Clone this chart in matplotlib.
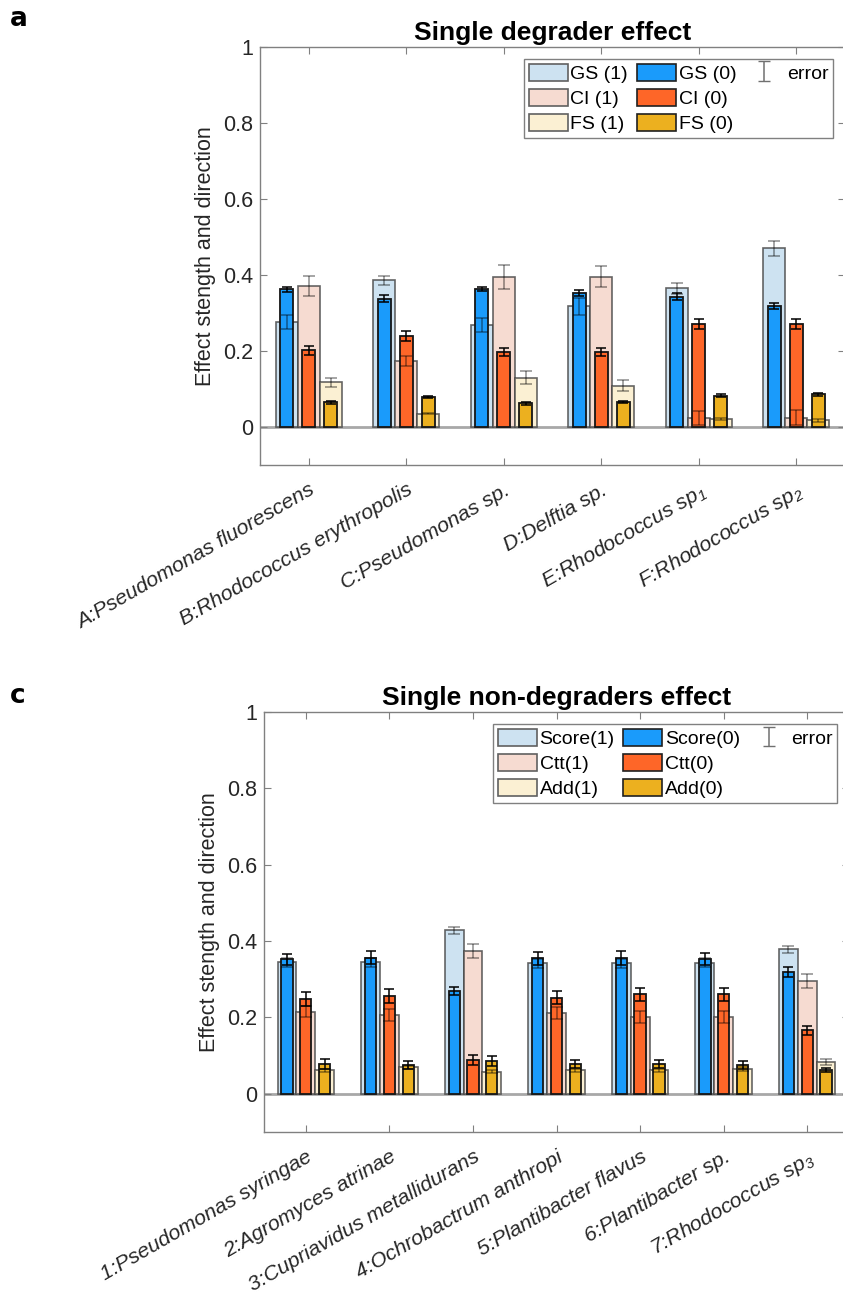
import numpy as np
import matplotlib
matplotlib.use("Agg")
import matplotlib.pyplot as plt
from matplotlib.patches import Patch
from matplotlib.transforms import ScaledTranslation

plt.rcParams['font.family'] = ['Liberation Sans', 'DejaVu Sans']
plt.rcParams['mathtext.fontset'] = 'custom'
plt.rcParams['mathtext.rm'] = 'Liberation Sans:italic'
plt.rcParams['mathtext.it'] = 'Liberation Sans:italic'

# ---- single degraders ----
deg_names = ['A:Pseudomonas fluorescens', 'B:Rhodococcus erythropolis',
             'C:Pseudomonas sp.', 'D:Delftia sp.',
             r'E:Rhodococcus sp$_1$', r'F:Rhodococcus sp$_2$']
gs1 = [0.276, 0.386, 0.268, 0.317, 0.365, 0.470]
gs1_err = [0.018, 0.012, 0.019, 0.022, 0.014, 0.020]
gs0 = [0.362, 0.338, 0.363, 0.352, 0.343, 0.319]
gs0_err = [0.007, 0.009, 0.006, 0.008, 0.009, 0.008]
ci1 = [0.370, 0.174, 0.395, 0.395, 0.024, 0.024]
ci1_err = [0.026, 0.014, 0.031, 0.028, 0.019, 0.020]
ci0 = [0.202, 0.240, 0.197, 0.197, 0.271, 0.271]
ci0_err = [0.012, 0.013, 0.010, 0.011, 0.013, 0.012]
fs1 = [0.117, 0.035, 0.130, 0.109, 0.021, 0.017]
fs1_err = [0.012, 0.002, 0.017, 0.015, 0.003, 0.004]
fs0 = [0.065, 0.079, 0.062, 0.065, 0.082, 0.086]
fs0_err = [0.004, 0.003, 0.003, 0.003, 0.004, 0.004]

# ---- single non-degraders ----
nondeg_names = ['1:Pseudomonas syringae', '2:Agromyces atrinae',
                '3:Cupriavidus metallidurans', '4:Ochrobactrum anthropi',
                '5:Plantibacter flavus', '6:Plantibacter sp.',
                r'7:Rhodococcus sp$_3$']
sc1 = [0.345, 0.345, 0.428, 0.342, 0.342, 0.344, 0.379]
sc1_err = [0.012, 0.012, 0.009, 0.012, 0.012, 0.012, 0.009]
sc0 = [0.352, 0.357, 0.270, 0.355, 0.355, 0.353, 0.319]
sc0_err = [0.014, 0.016, 0.011, 0.017, 0.018, 0.016, 0.012]
ct1 = [0.215, 0.207, 0.374, 0.211, 0.202, 0.202, 0.296]
ct1_err = [0.014, 0.016, 0.018, 0.016, 0.016, 0.016, 0.018]
ct0 = [0.248, 0.257, 0.089, 0.252, 0.261, 0.261, 0.166]
ct0_err = [0.018, 0.018, 0.014, 0.017, 0.017, 0.017, 0.013]
ad1 = [0.062, 0.069, 0.058, 0.062, 0.062, 0.065, 0.083]
ad1_err = [0.004, 0.004, 0.004, 0.004, 0.004, 0.004, 0.008]
ad0 = [0.078, 0.075, 0.086, 0.078, 0.078, 0.075, 0.063]
ad0_err = [0.012, 0.010, 0.012, 0.010, 0.010, 0.010, 0.005]

light_cols = ['#cde2f1', '#f6dbd1', '#fbf0d3']
dark_cols = ['#1a9bfb', '#fe6628', '#ecb01f']
offsets = [-0.225, 0.0, 0.225]
w_light = 0.225
w_dark = 0.135


def draw_panel(ax, names, light, light_err, dark, dark_err, labels, title):
    x = np.arange(1, len(names) + 1)
    for k in range(3):
        ax.bar(x + offsets[k], light[k], width=w_light, color=light_cols[k],
               edgecolor=(0.25, 0.25, 0.25, 0.8), linewidth=1.2, zorder=2)
    for k in range(3):
        ax.bar(x + offsets[k], dark[k], width=w_dark, color=dark_cols[k],
               edgecolor='#151515', linewidth=1.3, zorder=3)
    for k in range(3):
        ax.errorbar(x + offsets[k], light[k], yerr=light_err[k], fmt='none',
                    ecolor=(0, 0, 0, 0.45), elinewidth=1.1, capsize=4,
                    capthick=1.1, zorder=4)
        ax.errorbar(x + offsets[k], dark[k], yerr=dark_err[k], fmt='none',
                    ecolor='black', elinewidth=1.1, capsize=3.5,
                    capthick=1.1, zorder=5)
    ax.axhline(0, color='#a8a8a8', lw=2, zorder=1)

    ax.set_xlim(0.5, len(names) + 0.5)
    ax.set_ylim(-0.1, 1)
    ax.set_yticks([0, 0.2, 0.4, 0.6, 0.8, 1])
    ax.set_yticklabels(['0', '0.2', '0.4', '0.6', '0.8', '1'])
    ax.set_xticks(x)
    ax.set_xticklabels(names, rotation=30, ha='right', va='top',
                       rotation_mode='anchor', fontstyle='italic', fontsize=15.3,
                       color='#262626')
    shift = ScaledTranslation(20 / 100, 0, ax.figure.dpi_scale_trans)
    for lab in ax.get_xticklabels():
        lab.set_transform(lab.get_transform() + shift)
    ax.tick_params(axis='x', pad=11)
    ax.tick_params(axis='y', labelsize=15.5, colors='#262626', pad=5)
    ax.tick_params(direction='in', length=5, width=0.8, color='#808080',
                   top=True, right=True)
    for s in ax.spines.values():
        s.set_color('#808080')
        s.set_linewidth(1.0)
    ax.set_ylabel('Effect stength and direction', fontsize=15.5,
                  color='#262626', labelpad=5)
    ax.set_title(title, fontsize=19, fontweight='bold', pad=5)

    handles = [Patch(facecolor=light_cols[k], edgecolor='#606060', lw=1.2)
               for k in range(3)]
    handles += [Patch(facecolor=dark_cols[k], edgecolor='#202020', lw=1.2)
                for k in range(3)]
    err = ax.errorbar([np.nan], [np.nan], yerr=[np.nan], fmt='none',
                      ecolor='#707070', elinewidth=1.1, capsize=4)
    blank = Patch(facecolor='none', edgecolor='none')
    handles += [err, blank, blank]
    leg = ax.legend(handles, labels + ['', ''], ncol=3, loc='upper right',
                    bbox_to_anchor=(0.98, 0.972), borderaxespad=0,
                    fontsize=14, handlelength=2.0, handleheight=1.0,
                    handletextpad=0.15, columnspacing=0.45, labelspacing=0.3,
                    borderpad=0.25, fancybox=False, framealpha=1,
                    edgecolor='#808080')
    leg.get_frame().set_linewidth(1.0)


fig = plt.figure(figsize=(8.43, 12.93), dpi=100)

ax_a = fig.add_axes([0.3084, 0.6404, 0.694, 0.3233])
draw_panel(ax_a, deg_names, [gs1, ci1, fs1], [gs1_err, ci1_err, fs1_err],
           [gs0, ci0, fs0], [gs0_err, ci0_err, fs0_err],
           ['GS (1)', 'CI (1)', 'FS (1)', 'GS (0)', 'CI (0)', 'FS (0)', 'error'],
           'Single degrader effect')

ax_c = fig.add_axes([0.3132, 0.1245, 0.694, 0.3248])
draw_panel(ax_c, nondeg_names, [sc1, ct1, ad1], [sc1_err, ct1_err, ad1_err],
           [sc0, ct0, ad0], [sc0_err, ct0_err, ad0_err],
           ['Score(1)', 'Ctt(1)', 'Add(1)', 'Score(0)', 'Ctt(0)', 'Add(0)', 'error'],
           'Single non-degraders effect')

fig.text(10 / 843, 1 - 19 / 1293, 'a', fontsize=19, fontweight='bold',
         family=['DejaVu Sans'], va='center')
fig.text(10 / 843, 1 - 696 / 1293, 'c', fontsize=19, fontweight='bold',
         family=['DejaVu Sans'], va='center')

fig.savefig('out.png', dpi=100)
